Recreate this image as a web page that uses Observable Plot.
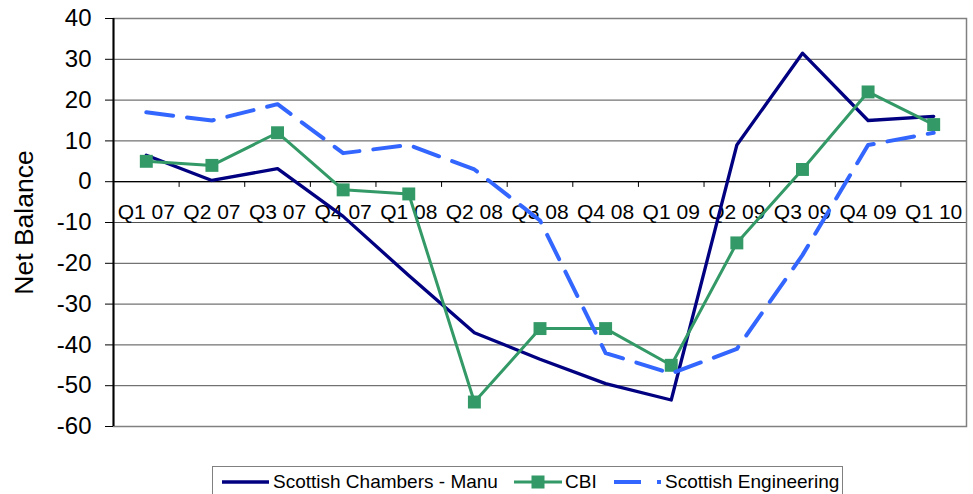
<!DOCTYPE html>
<html><head><meta charset="utf-8">
<script src="https://cdn.jsdelivr.net/npm/d3@7"></script>
<script src="https://cdn.jsdelivr.net/npm/@observablehq/plot@0.6"></script>
<style>
body{margin:0;background:#fff;font-family:"Liberation Sans",Arial,sans-serif;}
#wrap{position:relative;width:973px;height:494px;overflow:hidden;}
#legend{position:absolute;left:212px;top:466px;width:631px;height:40px;border:1px solid #808080;box-sizing:border-box;background:#fff;}
.item{position:absolute;top:0;height:30px;display:flex;align-items:center;font-size:19px;color:#000;white-space:nowrap;}
.item svg{display:block;}
</style></head>
<body><div id="wrap"><div id="chart"></div><div id="legend"></div></div>
<script>
const quarters = ["Q1 07","Q2 07","Q3 07","Q4 07","Q1 08","Q2 08","Q3 08","Q4 08","Q1 09","Q2 09","Q3 09","Q4 09","Q1 10"];
const scottishChambers = [6.5, 0.3, 3.2, -8.5, -23, -37, -43.5, -49.5, -53.5, 9, 31.5, 15, 16];
const cbi = [5, 4, 12, -2, -3, -54, -36, -36, -45, -15, 3, 22, 14];
const scottishEngineering = [17, 15, 19, 7, 9, 3, -9.5, -42, -47, -41, -18, 9, 12];
const yTicks = [-60, -50, -40, -30, -20, -10, 0, 10, 20, 30, 40];
const seriesNames = ["Scottish Chambers - Manu", "CBI", "Scottish Engineering"];
const colors = ["#000080", "#339966", "#3366FF"];

const xDomain = [-0.5, quarters.length - 0.5];
const boundaries = quarters.slice(1).map((_, i) => i + 0.5);
const idx = (d, i) => i;
const font = "Liberation Sans, Arial, sans-serif";

const chart = Plot.plot({
  width: 973,
  height: 440,
  marginLeft: 113,
  marginRight: 7,
  marginTop: 18,
  marginBottom: 14,
  style: {fontFamily: font, background: "#fff", color: "#000"},
  x: {type: "linear", domain: xDomain, axis: null},
  y: {domain: [-60, 40]},
  marks: [
    Plot.ruleY(yTicks, {stroke: "#505050", strokeWidth: 1}),
    Plot.frame({stroke: "#808080", strokeWidth: 1.5}),
    Plot.ruleY([0], {stroke: "#000", strokeWidth: 1.2}),
    Plot.ruleX([xDomain[0]], {stroke: "#000", strokeWidth: 2}),
    Plot.ruleX(boundaries, {y1: 0, y2: -1.4, stroke: "#000", strokeWidth: 1}),
    Plot.axisY({ticks: yTicks, tickSize: 8, tickPadding: 14, fontSize: 24, label: null, tickFormat: d => String(d).replace("\u2212", "-")}),
    Plot.text(["Net Balance"], {frameAnchor: "left", textAnchor: "middle", dx: -89, rotate: -90, fontSize: 26.5, fill: "#000"}),
    Plot.text(quarters, {x: idx, y: 0, dy: 31, fontSize: 21, fill: "#000"}),
    Plot.line(scottishChambers, {x: idx, y: d => d, stroke: colors[0], strokeWidth: 3.3}),
    Plot.line(cbi, {x: idx, y: d => d, stroke: colors[1], strokeWidth: 3}),
    Plot.dot(cbi, {x: idx, y: d => d, symbol: "square", r: 7.3, fill: colors[1], stroke: null}),
    Plot.line(scottishEngineering, {x: idx, y: d => d, stroke: colors[2], strokeWidth: 4, strokeDasharray: "27,14"})
  ]
});
document.getElementById("chart").appendChild(chart);

// legend
const legend = document.getElementById("legend");
const items = [
  {left: 8, swatch: `<svg width="50" height="12"><line x1="1" x2="48" y1="6" y2="6" stroke="${colors[0]}" stroke-width="3.3"/></svg>`},
  {left: 300, swatch: `<svg width="50" height="16"><line x1="1" x2="49" y1="8" y2="8" stroke="${colors[1]}" stroke-width="3"/><rect x="18.5" y="1.5" width="13" height="13" fill="${colors[1]}"/></svg>`},
  {left: 400, swatch: `<svg width="50" height="12"><line x1="1" x2="48" y1="6" y2="6" stroke="${colors[2]}" stroke-width="4" stroke-dasharray="27,16"/></svg>`}
];
items.forEach((it, i) => {
  const div = document.createElement("div");
  div.className = "item";
  div.style.left = it.left + "px";
  div.innerHTML = it.swatch + `<span style="margin-left:2px">${seriesNames[i]}</span>`;
  legend.appendChild(div);
});
</script>
</body></html>
